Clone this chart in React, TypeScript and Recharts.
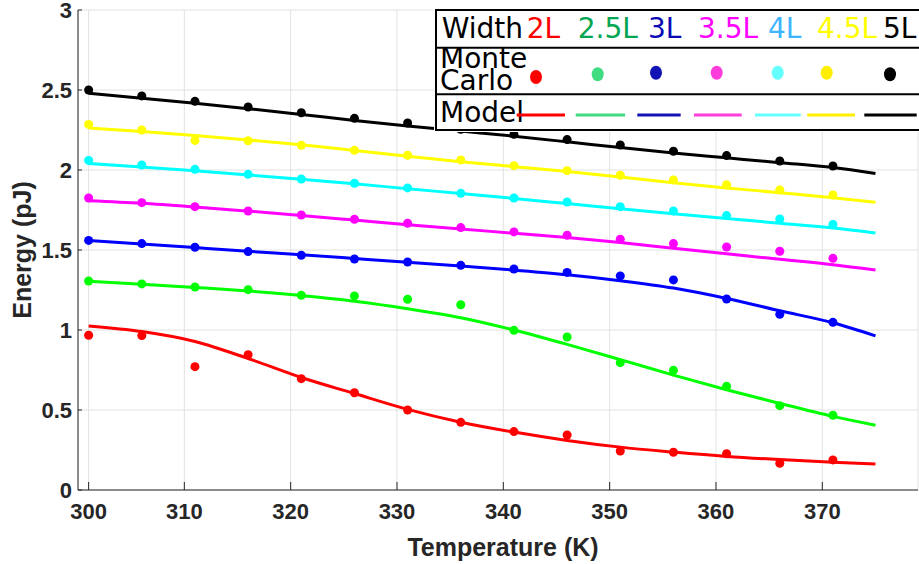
import React from "react";
import {
  ComposedChart,
  Line,
  Scatter,
  XAxis,
  YAxis,
  CartesianGrid,
  Legend,
} from "recharts";

// temperatures of the Monte Carlo runs and of the model curve (K)
const tempMC = [301, 306, 311, 316, 321, 326, 331, 336, 341, 346, 351, 356, 361, 366, 371];
const tempModel = [301, 306, 311, 316, 321, 326, 331, 336, 341, 346, 351, 356, 361, 366, 371, 375];

const xTicks = [301, 310, 320, 330, 340, 350, 360, 370];
const xTickLabels = ["300", "310", "320", "330", "340", "350", "360", "370"];
const yTicks = [0, 0.5, 1, 1.5, 2, 2.5, 3];

// Monte Carlo energies (pJ)
const mc2L = [0.967, 0.965, 0.771, 0.846, 0.696, 0.608, 0.5, 0.423, 0.365, 0.344, 0.244, 0.236, 0.227, 0.167, 0.188];
const mc25L = [1.306, 1.288, 1.269, 1.252, 1.217, 1.213, 1.192, 1.158, 0.998, 0.956, 0.796, 0.748, 0.648, 0.527, 0.467];
const mc3L = [1.56, 1.54, 1.517, 1.49, 1.467, 1.444, 1.425, 1.404, 1.381, 1.36, 1.338, 1.313, 1.194, 1.098, 1.048];
const mc35L = [1.825, 1.796, 1.771, 1.744, 1.719, 1.692, 1.667, 1.64, 1.613, 1.592, 1.567, 1.54, 1.519, 1.492, 1.448];
const mc4L = [2.06, 2.031, 2.004, 1.973, 1.944, 1.917, 1.888, 1.854, 1.825, 1.8, 1.771, 1.744, 1.715, 1.694, 1.66];
const mc45L = [2.285, 2.25, 2.185, 2.183, 2.154, 2.123, 2.092, 2.063, 2.027, 1.996, 1.967, 1.938, 1.908, 1.875, 1.844];
const mc5L = [2.5, 2.463, 2.429, 2.394, 2.358, 2.323, 2.294, 2.254, 2.223, 2.19, 2.156, 2.117, 2.09, 2.056, 2.025];

// model curves (pJ)
const md2L = [1.025, 0.99, 0.928, 0.822, 0.703, 0.603, 0.504, 0.424, 0.362, 0.31, 0.268, 0.237, 0.21, 0.19, 0.174, 0.163];
const md25L = [1.304, 1.286, 1.266, 1.244, 1.216, 1.18, 1.133, 1.077, 1.0, 0.91, 0.815, 0.718, 0.627, 0.541, 0.46, 0.405];
const md3L = [1.56, 1.538, 1.515, 1.492, 1.47, 1.447, 1.424, 1.4, 1.374, 1.345, 1.308, 1.262, 1.197, 1.12, 1.045, 0.963];
const md35L = [1.808, 1.792, 1.769, 1.743, 1.716, 1.687, 1.658, 1.631, 1.605, 1.578, 1.547, 1.511, 1.476, 1.442, 1.408, 1.375];
const md4L = [2.04, 2.018, 1.995, 1.969, 1.942, 1.914, 1.883, 1.853, 1.822, 1.79, 1.758, 1.727, 1.697, 1.667, 1.637, 1.606];
const md45L = [2.262, 2.24, 2.215, 2.188, 2.158, 2.122, 2.086, 2.052, 2.021, 1.99, 1.956, 1.92, 1.888, 1.858, 1.827, 1.798];
const md5L = [2.479, 2.449, 2.417, 2.383, 2.347, 2.31, 2.275, 2.243, 2.211, 2.176, 2.14, 2.106, 2.076, 2.046, 2.015, 1.978];

const widthLabels = ["2L", "2.5L", "3L", "3.5L", "4L", "4.5L", "5L"];
const seriesColors = ["#ff0000", "#00ff00", "#0000ff", "#ff00ff", "#00ffff", "#ffff00", "#000000"];
const labelColors = ["#ff0000", "#00a651", "#0a0ab4", "#ff00ff", "#3fb4ff", "#ffff00", "#000000"];
const legendMarkColors = ["#ff0000", "#3fdc80", "#1414b4", "#ff3cdc", "#64ffff", "#ffee00", "#000000"];

const mcSeries = [mc2L, mc25L, mc3L, mc35L, mc4L, mc45L, mc5L];
const modelSeries = [md2L, md25L, md3L, md35L, md4L, md45L, md5L];

const toPoints = (ts: number[], es: number[]) => ts.map((t, i) => ({ t, e: es[i] }));

const AXIS_COLOR = "#262626";
const AXIS_FONT = "'Liberation Sans', Arial, sans-serif";

function YTick(props: any) {
  const { x, y, payload } = props;
  return (
    <g>
      <line x1={x + 6} x2={x + 10} y1={y} y2={y} stroke={AXIS_COLOR} strokeWidth={1} />
      <text
        x={x}
        y={y}
        textAnchor="end"
        dominantBaseline="central"
        fill={AXIS_COLOR}
        fontFamily={AXIS_FONT}
        fontWeight={700}
        fontSize={22}
      >
        {payload.value}
      </text>
    </g>
  );
}

function XTick(props: any) {
  const { x, y, payload } = props;
  const i = xTicks.indexOf(payload.value);
  return (
    <g>
      <line x1={x} x2={x} y1={y - 13} y2={y - 21} stroke={AXIS_COLOR} strokeWidth={1} />
      <text
        x={x}
        y={y}
        dy="0.71em"
        textAnchor="middle"
        fill={AXIS_COLOR}
        fontFamily={AXIS_FONT}
        fontWeight={700}
        fontSize={22}
      >
        {i >= 0 ? xTickLabels[i] : payload.value}
      </text>
    </g>
  );
}

function TopTick(props: any) {
  const { x, y } = props;
  return <line x1={x} x2={x} y1={y} y2={y + 8} stroke={AXIS_COLOR} strokeWidth={1} />;
}

// table-like legend in the top right corner
const labelX = [92.7, 143.7, 214, 264, 334, 383, 449];
const dotPos = [
  [102, 69],
  [163.7, 66.3],
  [222, 64.7],
  [282.7, 64.7],
  [343.7, 64.7],
  [392.7, 64.7],
  [456, 66.3],
];
const segPos = [
  [82.7, 131],
  [141.7, 191],
  [203.3, 246.7],
  [260, 307.7],
  [321, 366.7],
  [373.3, 421],
  [430.3, 482.7],
];

function TableLegend() {
  const font = { fontFamily: "'DejaVu Sans', sans-serif", fontSize: 28 };
  return (
    <svg width={485} height={124} style={{ display: "block", overflow: "visible" }}>
      <rect x={0} y={0} width={485} height={124} fill="#ffffff" />
      {[2, 39.7, 86.3, 122].map((y) => (
        <line key={y} x1={1} x2={485} y1={y} y2={y} stroke="#000" strokeWidth={2} />
      ))}
      <line x1={2} x2={2} y1={1} y2={123} stroke="#000" strokeWidth={2} />
      <text x={7.7} y={30.3} fill="#000" {...font}>Width</text>
      {widthLabels.map((w, i) => (
        <text key={w} x={labelX[i]} y={30.3} fill={labelColors[i]} {...font}>
          {w}
        </text>
      ))}
      <text x={6} y={60} fill="#000" {...font}>Monte</text>
      <text x={6} y={82} fill="#000" {...font}>Carlo</text>
      {dotPos.map(([cx, cy], i) => (
        <ellipse key={i} cx={cx} cy={cy} rx={6} ry={7} fill={legendMarkColors[i]} />
      ))}
      <text x={6} y={113.7} fill="#000" {...font}>Model</text>
      {segPos.map(([a, b], i) => (
        <line key={i} x1={a} x2={b} y1={107} y2={107} stroke={legendMarkColors[i]} strokeWidth={3} />
      ))}
    </svg>
  );
}

export default function App() {
  return (
    <div style={{ position: "absolute", left: 0, top: 0, width: 919, height: 564, background: "#fff" }}>
      <ComposedChart width={919} height={564} margin={{ top: 10, right: 1, bottom: 0, left: 0 }}>
        <CartesianGrid stroke="#e2e2e2" strokeWidth={1} />
        <XAxis
          dataKey="t"
          type="number"
          domain={[300, 379]}
          ticks={xTicks}
          allowDataOverflow
          height={74}
          stroke={AXIS_COLOR}
          tickLine={false}
          tickSize={0}
          tickMargin={13}
          tick={<XTick />}
          interval={0}
          label={{
            value: "Temperature (K)",
            position: "insideBottom",
            offset: 8,
            dx: 5,
            style: { fontFamily: AXIS_FONT, fontWeight: 700, fontSize: 25, fill: AXIS_COLOR },
          }}
        />
        <XAxis
          xAxisId="top"
          orientation="top"
          type="number"
          domain={[300, 379]}
          ticks={xTicks}
          height={0}
          stroke={AXIS_COLOR}
          tickLine={false}
          tickSize={0}
          tickMargin={0}
          tick={<TopTick />}
          interval={0}
        />
        <YAxis
          type="number"
          domain={[0, 3]}
          ticks={yTicks}
          width={78}
          stroke={AXIS_COLOR}
          tickLine={false}
          tickSize={0}
          tickMargin={6}
          tick={<YTick />}
          interval={0}
          label={{
            value: "Energy (pJ)",
            angle: -90,
            position: "insideLeft",
            offset: 22,
            style: { textAnchor: "middle", fontFamily: AXIS_FONT, fontWeight: 700, fontSize: 25, fill: AXIS_COLOR },
          }}
        />
        {modelSeries.map((s, i) => (
          <Line
            key={"m" + i}
            data={toPoints(tempModel, s)}
            dataKey="e"
            type="monotone"
            stroke={seriesColors[i]}
            strokeWidth={3}
            dot={false}
            activeDot={false}
            isAnimationActive={false}
            name={"Model " + widthLabels[i]}
          />
        ))}
        {mcSeries.map((s, i) => (
          <Scatter
            key={"s" + i}
            data={toPoints(tempMC, s)}
            dataKey="e"
            fill={seriesColors[i]}
            shape="circle"
            isAnimationActive={false}
            name={"Monte Carlo " + widthLabels[i]}
          />
        ))}
        <Legend
          layout="horizontal"
          verticalAlign="middle"
          align="center"
          content={() => <TableLegend />}
          wrapperStyle={{ position: "absolute", left: 434, top: 8, width: 485, height: 124 }}
        />
      </ComposedChart>
    </div>
  );
}
